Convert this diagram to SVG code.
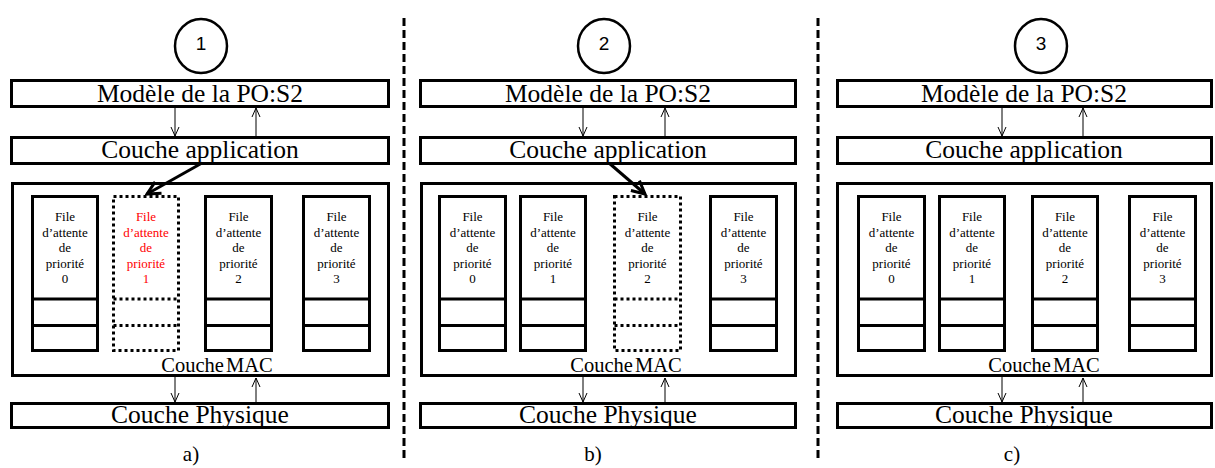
<svg xmlns="http://www.w3.org/2000/svg" width="1215" height="468" viewBox="0 0 1215 468">
<style>
.box{fill:#fff;stroke:#000;stroke-width:3}
.q{fill:#fff;stroke:#000;stroke-width:3}
.qd{fill:none;stroke:#000;stroke-width:3;stroke-dasharray:3 3}
.t{font-family:"Liberation Serif","Times New Roman",serif;fill:#000;text-anchor:middle}
.big{font-size:25.5px}
.mac{font-size:20.5px;word-spacing:-3px}
.qt{font-size:13px}
.red{fill:#ff0000}
.num{font-family:"Liberation Sans",Arial,sans-serif;font-size:19px;text-anchor:middle}
.circ{fill:#fff;stroke:#000;stroke-width:2.5}
.thin{stroke:#000;stroke-width:1;fill:none}
.bold{stroke:#000;stroke-width:3;fill:none}
.sep{stroke:#000;stroke-width:3;stroke-dasharray:8 4}
.lab{font-family:"Liberation Serif","Times New Roman",serif;font-size:21px;text-anchor:middle}
</style>
<defs>
<marker id="ah" viewBox="-12 -7 14 14" markerWidth="14" markerHeight="14" refX="0" refY="0" orient="auto" markerUnits="userSpaceOnUse">
<path d="M-9,-4 L0,0 L-9,4" fill="none" stroke="#000" stroke-width="1"/>
</marker>
<marker id="bh" viewBox="-18 -10 20 20" markerWidth="20" markerHeight="20" refX="0" refY="0" orient="auto" markerUnits="userSpaceOnUse">
<path d="M-13,-6.5 L0,0 L-13,6.5" fill="none" stroke="#000" stroke-width="3"/>
</marker>
</defs>
<rect width="1215" height="468" fill="#fff"/>

<g id="separators">
<line class="sep" x1="404" y1="18" x2="404" y2="460"/>
<line class="sep" x1="818" y1="18" x2="818" y2="460"/>
</g>

<!-- Panel a -->
<g id="a-step"><ellipse class="circ" cx="201" cy="46" rx="26" ry="27"/><text class="num" x="201" y="50">1</text></g>
<g id="a-model"><rect class="box" x="11.5" y="80.5" width="377" height="26"/><text class="t big" x="200" y="102">Modèle de la PO:S2</text></g>
<g id="a-app"><rect class="box" x="11.5" y="137.5" width="377" height="26"/><text class="t big" x="200" y="158">Couche application</text></g>
<g id="a-mac"><rect class="box" x="12.5" y="183.5" width="376" height="192"/><text class="t mac" x="217" y="372">Couche MAC</text></g>
<g id="a-q0"><rect class="q" x="32.5" y="196.5" width="65" height="154"/><line class="q" x1="32.5" y1="299" x2="97.5" y2="299"/><line class="q" x1="32.5" y1="325.5" x2="97.5" y2="325.5"/>
<text class="t qt" x="65" y="221">File<tspan x="65" dy="15.5">d’attente</tspan><tspan x="65" dy="15.5">de</tspan><tspan x="65" dy="15.5">priorité</tspan><tspan x="65" dy="15.5">0</tspan></text></g>
<g id="a-q1"><rect class="qd" x="113.5" y="196.5" width="65" height="154"/><line class="qd" x1="113.5" y1="299" x2="178.5" y2="299"/><line class="qd" x1="113.5" y1="325.5" x2="178.5" y2="325.5"/>
<text class="t qt red" x="146" y="221">File<tspan x="146" dy="15.5">d’attente</tspan><tspan x="146" dy="15.5">de</tspan><tspan x="146" dy="15.5">priorité</tspan><tspan x="146" dy="15.5">1</tspan></text></g>
<g id="a-q2"><rect class="q" x="205.5" y="196.5" width="66" height="154"/><line class="q" x1="205.5" y1="299" x2="271.5" y2="299"/><line class="q" x1="205.5" y1="325.5" x2="271.5" y2="325.5"/>
<text class="t qt" x="238.5" y="221">File<tspan x="238.5" dy="15.5">d’attente</tspan><tspan x="238.5" dy="15.5">de</tspan><tspan x="238.5" dy="15.5">priorité</tspan><tspan x="238.5" dy="15.5">2</tspan></text></g>
<g id="a-q3"><rect class="q" x="303.5" y="196.5" width="66" height="154"/><line class="q" x1="303.5" y1="299" x2="369.5" y2="299"/><line class="q" x1="303.5" y1="325.5" x2="369.5" y2="325.5"/>
<text class="t qt" x="336.5" y="221">File<tspan x="336.5" dy="15.5">d’attente</tspan><tspan x="336.5" dy="15.5">de</tspan><tspan x="336.5" dy="15.5">priorité</tspan><tspan x="336.5" dy="15.5">3</tspan></text></g>
<g id="a-phy"><rect class="box" x="11.5" y="403.5" width="377" height="24"/><text class="t big" x="200" y="423">Couche Physique</text></g>
<text class="lab" x="191" y="461">a)</text>

<!-- Panel b -->
<g id="b-step"><ellipse class="circ" cx="604" cy="46" rx="26" ry="27"/><text class="num" x="604" y="50">2</text></g>
<g id="b-model"><rect class="box" x="420.5" y="80.5" width="375" height="26"/><text class="t big" x="608" y="102">Modèle de la PO:S2</text></g>
<g id="b-app"><rect class="box" x="420.5" y="137.5" width="375" height="26"/><text class="t big" x="608" y="158">Couche application</text></g>
<g id="b-mac"><rect class="box" x="421.5" y="183.5" width="374" height="192"/><text class="t mac" x="626" y="372">Couche MAC</text></g>
<g id="b-q0"><rect class="q" x="439.5" y="196.5" width="66" height="154"/><line class="q" x1="439.5" y1="299" x2="505.5" y2="299"/><line class="q" x1="439.5" y1="325.5" x2="505.5" y2="325.5"/>
<text class="t qt" x="472.5" y="221">File<tspan x="472.5" dy="15.5">d’attente</tspan><tspan x="472.5" dy="15.5">de</tspan><tspan x="472.5" dy="15.5">priorité</tspan><tspan x="472.5" dy="15.5">0</tspan></text></g>
<g id="b-q1"><rect class="q" x="520.5" y="196.5" width="65" height="154"/><line class="q" x1="520.5" y1="299" x2="585.5" y2="299"/><line class="q" x1="520.5" y1="325.5" x2="585.5" y2="325.5"/>
<text class="t qt" x="553" y="221">File<tspan x="553" dy="15.5">d’attente</tspan><tspan x="553" dy="15.5">de</tspan><tspan x="553" dy="15.5">priorité</tspan><tspan x="553" dy="15.5">1</tspan></text></g>
<g id="b-q2"><rect class="qd" x="614.5" y="196.5" width="66" height="154"/><line class="qd" x1="614.5" y1="299" x2="680.5" y2="299"/><line class="qd" x1="614.5" y1="325.5" x2="680.5" y2="325.5"/>
<text class="t qt" x="647.5" y="221">File<tspan x="647.5" dy="15.5">d’attente</tspan><tspan x="647.5" dy="15.5">de</tspan><tspan x="647.5" dy="15.5">priorité</tspan><tspan x="647.5" dy="15.5">2</tspan></text></g>
<g id="b-q3"><rect class="q" x="710.5" y="196.5" width="66" height="154"/><line class="q" x1="710.5" y1="299" x2="776.5" y2="299"/><line class="q" x1="710.5" y1="325.5" x2="776.5" y2="325.5"/>
<text class="t qt" x="743.5" y="221">File<tspan x="743.5" dy="15.5">d’attente</tspan><tspan x="743.5" dy="15.5">de</tspan><tspan x="743.5" dy="15.5">priorité</tspan><tspan x="743.5" dy="15.5">3</tspan></text></g>
<g id="b-phy"><rect class="box" x="420.5" y="403.5" width="375" height="24"/><text class="t big" x="608" y="423">Couche Physique</text></g>
<text class="lab" x="593" y="461">b)</text>

<!-- Panel c -->
<g id="c-step"><ellipse class="circ" cx="1041" cy="46" rx="26" ry="27"/><text class="num" x="1041" y="50">3</text></g>
<g id="c-model"><rect class="box" x="837.5" y="80.5" width="374" height="26"/><text class="t big" x="1024" y="102">Modèle de la PO:S2</text></g>
<g id="c-app"><rect class="box" x="837.5" y="137.5" width="374" height="26"/><text class="t big" x="1024" y="158">Couche application</text></g>
<g id="c-mac"><rect class="box" x="837.5" y="183.5" width="374" height="192"/><text class="t mac" x="1044" y="372">Couche MAC</text></g>
<g id="c-q0"><rect class="q" x="858.5" y="196.5" width="66" height="154"/><line class="q" x1="858.5" y1="299" x2="924.5" y2="299"/><line class="q" x1="858.5" y1="325.5" x2="924.5" y2="325.5"/>
<text class="t qt" x="891.5" y="221">File<tspan x="891.5" dy="15.5">d’attente</tspan><tspan x="891.5" dy="15.5">de</tspan><tspan x="891.5" dy="15.5">priorité</tspan><tspan x="891.5" dy="15.5">0</tspan></text></g>
<g id="c-q1"><rect class="q" x="939.5" y="196.5" width="65" height="154"/><line class="q" x1="939.5" y1="299" x2="1004.5" y2="299"/><line class="q" x1="939.5" y1="325.5" x2="1004.5" y2="325.5"/>
<text class="t qt" x="972" y="221">File<tspan x="972" dy="15.5">d’attente</tspan><tspan x="972" dy="15.5">de</tspan><tspan x="972" dy="15.5">priorité</tspan><tspan x="972" dy="15.5">1</tspan></text></g>
<g id="c-q2"><rect class="q" x="1032.5" y="196.5" width="65" height="154"/><line class="q" x1="1032.5" y1="299" x2="1097.5" y2="299"/><line class="q" x1="1032.5" y1="325.5" x2="1097.5" y2="325.5"/>
<text class="t qt" x="1065" y="221">File<tspan x="1065" dy="15.5">d’attente</tspan><tspan x="1065" dy="15.5">de</tspan><tspan x="1065" dy="15.5">priorité</tspan><tspan x="1065" dy="15.5">2</tspan></text></g>
<g id="c-q3"><rect class="q" x="1129.5" y="196.5" width="66" height="154"/><line class="q" x1="1129.5" y1="299" x2="1195.5" y2="299"/><line class="q" x1="1129.5" y1="325.5" x2="1195.5" y2="325.5"/>
<text class="t qt" x="1162.5" y="221">File<tspan x="1162.5" dy="15.5">d’attente</tspan><tspan x="1162.5" dy="15.5">de</tspan><tspan x="1162.5" dy="15.5">priorité</tspan><tspan x="1162.5" dy="15.5">3</tspan></text></g>
<g id="c-phy"><rect class="box" x="837.5" y="403.5" width="374" height="24"/><text class="t big" x="1024" y="423">Couche Physique</text></g>
<text class="lab" x="1012" y="461">c)</text>

<g id="connectors">
<line class="thin" x1="175" y1="107" x2="175" y2="136" marker-end="url(#ah)"/>
<line class="thin" x1="256" y1="136" x2="256" y2="108" marker-end="url(#ah)"/>
<line class="thin" x1="175" y1="377" x2="175" y2="402" marker-end="url(#ah)"/>
<line class="thin" x1="256" y1="402" x2="256" y2="378" marker-end="url(#ah)"/>
<line class="bold" x1="202" y1="163" x2="147" y2="194" marker-end="url(#bh)"/>

<line class="thin" x1="583" y1="107" x2="583" y2="136" marker-end="url(#ah)"/>
<line class="thin" x1="665" y1="136" x2="665" y2="108" marker-end="url(#ah)"/>
<line class="thin" x1="583" y1="377" x2="583" y2="402" marker-end="url(#ah)"/>
<line class="thin" x1="665" y1="402" x2="665" y2="378" marker-end="url(#ah)"/>
<line class="bold" x1="609" y1="163" x2="645" y2="194" marker-end="url(#bh)"/>

<line class="thin" x1="1002" y1="107" x2="1002" y2="136" marker-end="url(#ah)"/>
<line class="thin" x1="1083" y1="136" x2="1083" y2="108" marker-end="url(#ah)"/>
<line class="thin" x1="1002" y1="377" x2="1002" y2="402" marker-end="url(#ah)"/>
<line class="thin" x1="1083" y1="402" x2="1083" y2="378" marker-end="url(#ah)"/>
</g>
</svg>
